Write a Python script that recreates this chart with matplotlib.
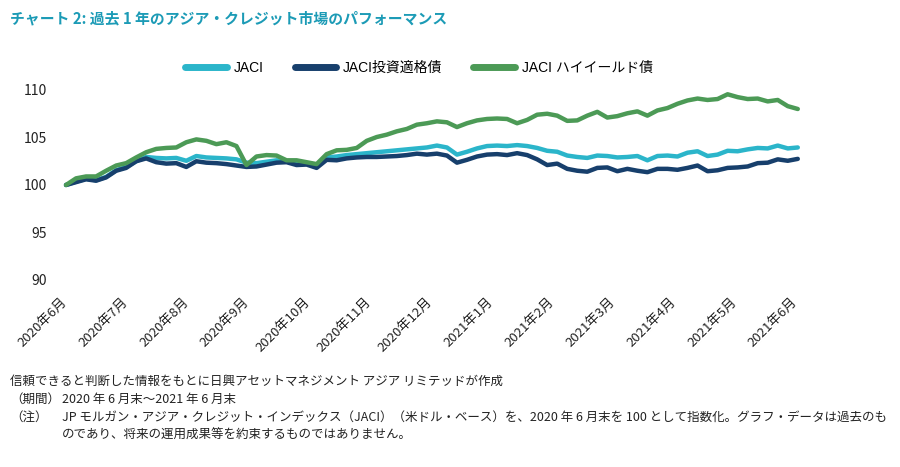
import numpy as np
import matplotlib
matplotlib.use("Agg")
import matplotlib.pyplot as plt

plt.rcParams["font.family"] = ["Noto Sans CJK JP", "DejaVu Sans"]

# days since end of June 2020, every 5 days
days = np.arange(0, 366, 5)

jaci = [
    100.0, 100.35, 100.65, 100.5, 100.85, 101.55, 101.9, 102.5, 102.95, 102.85,
    102.8, 102.85, 102.55, 103.05, 102.9, 102.85, 102.8, 102.7, 102.35, 102.3,
    102.45, 102.6, 102.5, 102.4, 102.25, 102.0, 102.9, 103.0, 103.15, 103.25,
    103.35, 103.45, 103.55, 103.65, 103.75, 103.85, 103.95, 104.15, 103.95, 103.2,
    103.5, 103.85, 104.1, 104.15, 104.1, 104.2, 104.1, 103.9, 103.6, 103.5,
    103.1, 102.95, 102.85, 103.1, 103.05, 102.9, 102.95, 103.05, 102.6, 103.05,
    103.1, 103.0, 103.4, 103.55, 103.05, 103.2, 103.6, 103.55, 103.75, 103.9,
    103.85, 104.15, 103.85, 103.95,
]

jaci_ig = [
    100.0, 100.3, 100.6, 100.45, 100.8, 101.5, 101.8, 102.5, 102.8, 102.4,
    102.25, 102.3, 101.9, 102.5, 102.35, 102.3, 102.2, 102.05, 101.9, 101.95,
    102.15, 102.35, 102.4, 102.1, 102.15, 101.8, 102.65, 102.6, 102.8, 102.9,
    102.95, 102.95, 103.0, 103.05, 103.15, 103.3, 103.2, 103.3, 103.1, 102.35,
    102.65, 103.0, 103.2, 103.25, 103.15, 103.35, 103.15, 102.7, 102.1, 102.25,
    101.7, 101.5, 101.4, 101.8, 101.85, 101.45, 101.7, 101.5, 101.35, 101.7,
    101.7, 101.6, 101.8, 102.05, 101.45, 101.55, 101.8, 101.85, 101.95, 102.3,
    102.35, 102.7, 102.55, 102.75,
]

jaci_hy = [
    100.0, 100.7, 100.9, 100.9, 101.5, 102.05, 102.3, 102.9, 103.45, 103.8,
    103.9, 103.95, 104.5, 104.8, 104.65, 104.3, 104.5, 104.1, 102.1, 103.0,
    103.15, 103.1, 102.6, 102.6, 102.4, 102.2, 103.25, 103.65, 103.7, 103.9,
    104.65, 105.05, 105.3, 105.65, 105.9, 106.35, 106.5, 106.7, 106.6, 106.1,
    106.5, 106.8, 106.95, 107.0, 106.95, 106.5, 106.85, 107.4, 107.5, 107.3,
    106.75, 106.8, 107.3, 107.7, 107.1, 107.25, 107.55, 107.75, 107.3, 107.85,
    108.1, 108.55, 108.9, 109.1, 108.95, 109.05, 109.55, 109.25, 109.05, 109.1,
    108.8, 108.95, 108.3, 108.0,
]

month_labels = [
    "2020年6月", "2020年7月", "2020年8月", "2020年9月", "2020年10月",
    "2020年11月", "2020年12月", "2021年1月", "2021年2月", "2021年3月",
    "2021年4月", "2021年5月", "2021年6月",
]
y_ticks = [90, 95, 100, 105, 110]

series = [
    ("JACI", jaci, "#2bb5ca"),
    ("JACI投資適格債", jaci_ig, "#173f6c"),
    ("JACI ハイイールド債", jaci_hy, "#4c9a56"),
]

fig = plt.figure(figsize=(9, 4.67), dpi=100)
ax = fig.add_axes([58 / 900, 1 - 280 / 467, (805 - 58) / 900, 190 / 467])

for name, vals, color in series:
    ax.plot(days, vals, color=color, lw=3.2, label=name, solid_capstyle="round")

ax.set_xlim(-4, 368.6)
ax.set_ylim(90, 110)
ax.set_yticks(y_ticks)
ax.set_yticklabels([str(v) for v in y_ticks], fontsize=10, color="#222222")

ticks = [-3 + 30.38 * i for i in range(len(month_labels))]
ax.set_xticks(ticks)
ax.set_xticklabels(month_labels, rotation=45, ha="right", va="top",
                   rotation_mode="anchor", fontsize=9.5, color="#222222")
ax.tick_params(axis="both", length=0)
ax.tick_params(axis="x", pad=11)
ax.tick_params(axis="y", pad=8)
for s in ax.spines.values():
    s.set_visible(False)

leg = ax.legend(loc="center", bbox_to_anchor=(419 / 900, 1 - 68 / 467),
                bbox_transform=fig.transFigure, ncol=3, frameon=False,
                handlelength=3.0, handletextpad=0.5, columnspacing=2.2,
                prop={"family": ["Liberation Sans", "Noto Sans CJK JP"], "size": 10})
for line in leg.get_lines():
    line.set_linewidth(5)

fig.text(10 / 900, 1 - 18 / 467, "チャート 2: 過去 1 年のアジア・クレジット市場のパフォーマンス",
         color="#1c9bb6", fontsize=10.7, fontweight="bold", va="center")

note_kw = dict(fontsize=9, color="#222222", va="center")
fig.text(10 / 900, 1 - 381 / 467,
         "信頼できると判断した情報をもとに日興アセットマネジメント アジア リミテッドが作成", **note_kw)
fig.text(10 / 900, 1 - 399 / 467, "（期間）", **note_kw)
fig.text(62 / 900, 1 - 399 / 467, "2020 年 6 月末～2021 年 6 月末", **note_kw)
fig.text(10 / 900, 1 - 417 / 467, "（注）", **note_kw)
fig.text(62 / 900, 1 - 417 / 467,
         "JP モルガン・アジア・クレジット・インデックス（JACI）（米ドル・ベース）を、2020 年 6 月末を 100 として指数化。グラフ・データは過去のも",
         **note_kw)
fig.text(62 / 900, 1 - 435 / 467,
         "のであり、将来の運用成果等を約束するものではありません。", **note_kw)

fig.savefig("out.png", dpi=100)
